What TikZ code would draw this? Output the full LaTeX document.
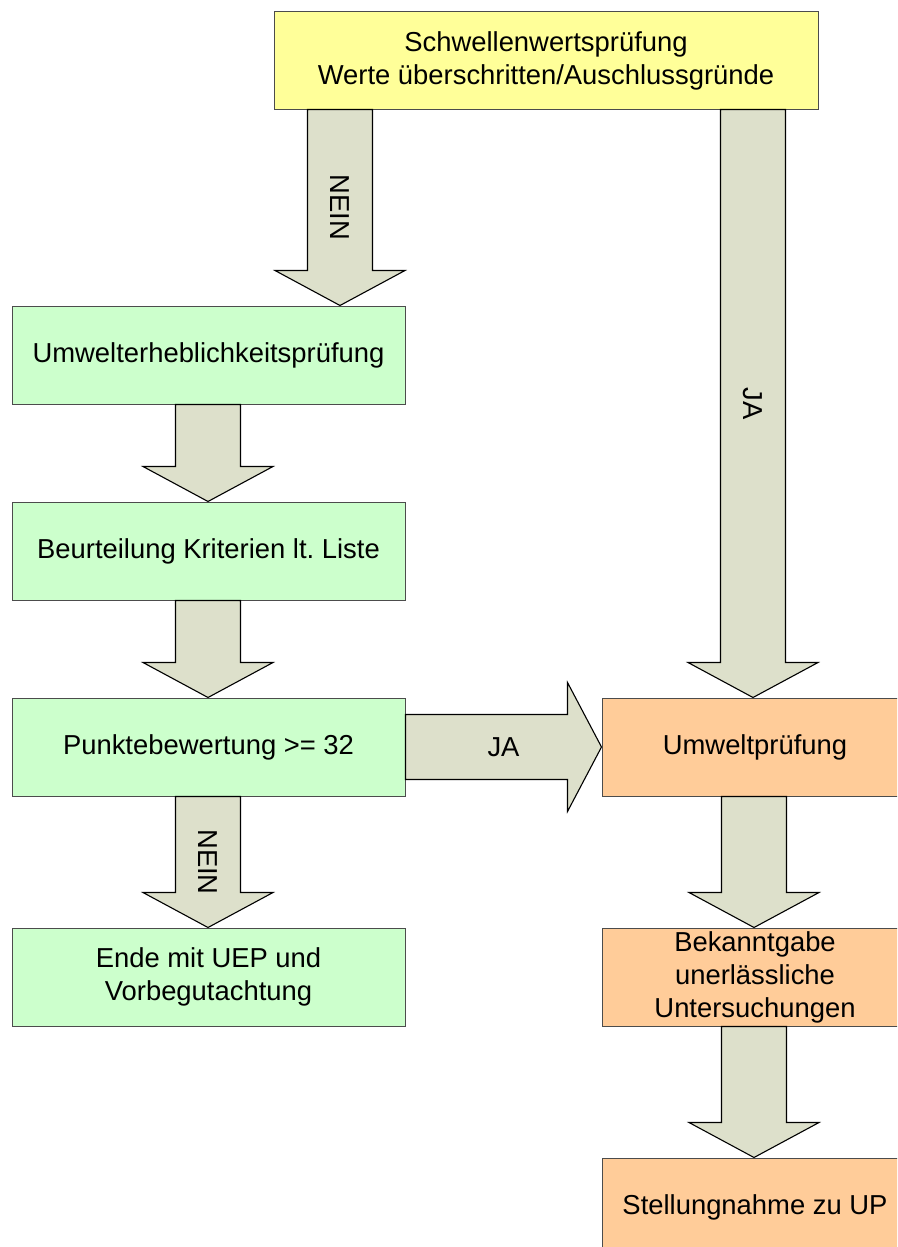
\documentclass[tikz,border=0pt]{standalone}
\usepackage{fontspec}
\setmainfont{Liberation Sans}
\usetikzlibrary{calc}
\frenchspacing
\definecolor{boxyellow}{RGB}{255,255,153}
\definecolor{boxgreen}{RGB}{204,255,204}
\definecolor{boxorange}{RGB}{255,204,153}
\definecolor{arrowfill}{RGB}{221,224,203}
\tikzset{
  box/.style={draw=black!70, line width=1pt, inner sep=0pt, align=center,
    minimum height=98pt},
  greenbox/.style={box, fill=boxgreen, minimum width=393pt},
  orangebox/.style={box, fill=boxorange, minimum width=306pt},
  blockarrow/.style={draw=black, fill=arrowfill, line width=1.1pt, line join=miter}
}
% block arrow downwards, #3 = x of the shaft
\newcommand{\blockdown}[4]{%
  \draw[blockarrow] let \p1=(#1.south), \p2=(#2.north) in
    (#3pt-32.5pt,\y1) -- (#3pt-32.5pt,\y2+35pt) -- (#3pt-65pt,\y2+35pt) -- (#3pt,\y2)
    -- (#3pt+65pt,\y2+35pt) -- (#3pt+32.5pt,\y2+35pt) -- (#3pt+32.5pt,\y1) -- cycle
    ($(#3pt,\y1)!0.5!(#3pt,\y2)$) node[rotate=-90] {#4};}
% block arrow to the right, at the height of the first node
\newcommand{\blockright}[3]{%
  \draw[blockarrow] let \p1=(#1.east), \p2=(#2.west) in
    (\x1,\y1+32.5pt) -- (\x2-34pt,\y1+32.5pt) -- (\x2-34pt,\y1+64.5pt) -- (\x2,\y1)
    -- (\x2-34pt,\y1-64.5pt) -- (\x2-34pt,\y1-32.5pt) -- (\x1,\y1-32.5pt) -- cycle
    ($(\x1,\y1)!0.5!(\x2,\y1)$) node {#3};}

\begin{document}
\begin{tikzpicture}[x=1pt, y=1pt, font=\fontsize{27.4}{33}\selectfont]
  \useasboundingbox (0,0) rectangle (897,-1247);
  \clip (0,0) rectangle (897,-1247);

  \node[box, fill=boxyellow, minimum width=544pt, minimum height=97pt] (schwelle) at (546,-60.5)
    {Schwellenwertsprüfung\\Werte überschritten/Auschlussgründe};

  \node[greenbox] (uep) at (208.5,-355) {Umwelterheblichkeitsprüfung};
  \node[greenbox] (kriterien) at (208.5,-551) {Beurteilung Kriterien lt. Liste};
  \node[greenbox] (punkte) at (208.5,-747) {Punktebewertung >= 32};
  \node[greenbox] (ende) at (208.5,-977) {Ende mit UEP und\\Vorbegutachtung};

  \node[orangebox] (up) at (755,-747) {Umweltprüfung};
  \node[orangebox] (bekannt) at (755,-977) {Bekanntgabe\\unerlässliche\\Untersuchungen};
  \node[orangebox] (stellung) at (755,-1207) {Stellungnahme zu UP};

  \blockdown{schwelle}{uep}{340}{NEIN}
  \blockdown{schwelle}{up}{753}{JA}
  \blockdown{uep}{kriterien}{208}{}
  \blockdown{kriterien}{punkte}{208}{}
  \blockdown{punkte}{ende}{208}{NEIN}
  \blockright{punkte}{up}{JA}
  \blockdown{up}{bekannt}{754}{}
  \blockdown{bekannt}{stellung}{754}{}
\end{tikzpicture}
\end{document}
